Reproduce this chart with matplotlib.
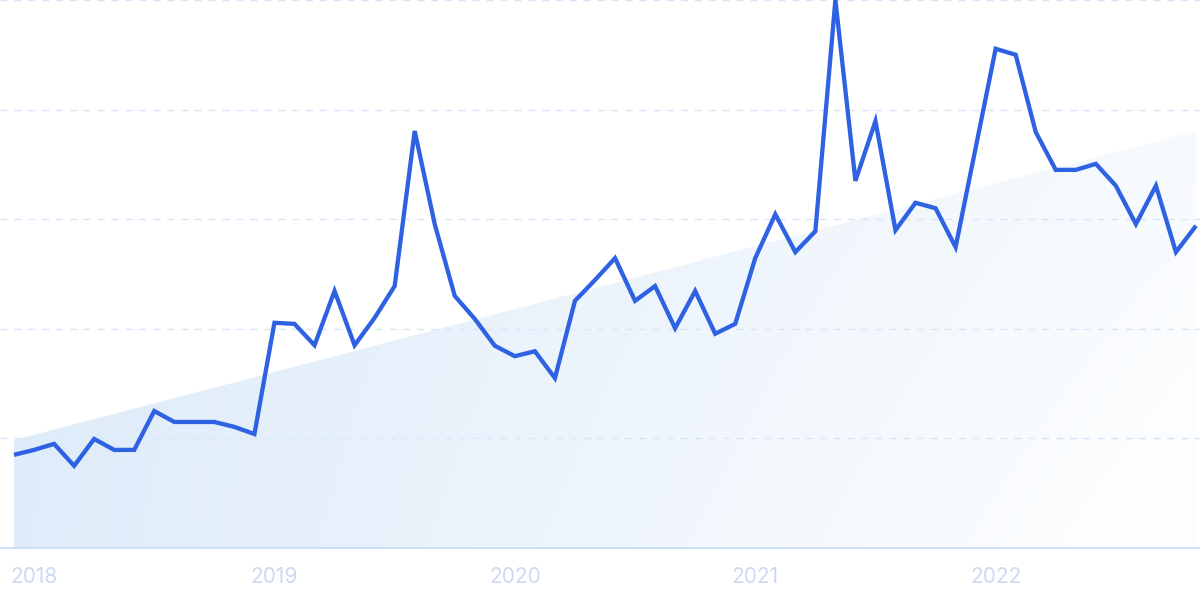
import numpy as np
import matplotlib.pyplot as plt
from matplotlib.patches import Polygon

# 月度搜索热度 (2018-01 .. 2022-12)
values = [
    17.0, 17.9, 19.0, 15.0, 19.9, 17.9, 17.9, 25.0, 23.0, 23.0, 23.0, 22.1,
    20.8, 41.1, 40.9, 37.0, 46.9, 37.0, 42.0, 47.8, 76.1, 59.1, 46.0, 41.8,
    36.9, 35.0, 35.9, 31.0, 45.1, 48.9, 52.9, 45.1, 47.8, 40.1, 46.9, 39.1,
    40.9, 52.9, 60.9, 54.0, 57.8, 100.0, 67.0, 77.9, 58.0, 63.0, 62.0, 54.9,
    73.0, 91.1, 90.0, 75.9, 69.0, 69.0, 70.1, 66.1, 59.1, 66.1, 54.0, 58.8,
]
year_labels = ["2018", "2019", "2020", "2021", "2022"]
year_tick_idx = [1, 13, 25, 37, 49]
grid_levels = [20, 40, 60, 80, 100]
trend_start, trend_end = 19.7, 76.1

x = np.arange(len(values))
y = np.array(values)

fig = plt.figure(figsize=(12, 6), dpi=100)
ax = fig.add_axes([0, 52 / 600, 1, 548 / 600])
ax.set_xlim(-0.70, len(values) - 1 + 0.2)
ax.set_ylim(0, 100)

# 趋势区域：渐变填充 (左上较深, 右下接近白色)
trend = np.linspace(trend_start, trend_end, len(values))
poly = Polygon(np.vstack([np.column_stack([x, trend]),
                          [[x[-1], 0], [x[0], 0]]]),
               closed=True, facecolor="none", edgecolor="none")
ax.add_patch(poly)

nx, ny = 300, 150
u = np.linspace(0, 1, nx)[None, :]
v = np.linspace(0, 1, ny)[:, None]  # 0 = 底部
t = np.clip(0.75 * u + 0.3 * (1 - v) * u + 0.05 * (1 - v), 0, 1)
img = np.zeros((ny, nx, 4))
img[..., 0] = 0.86
img[..., 1] = 0.92
img[..., 2] = 0.98
img[..., 3] = 0.95 - 0.87 * t
im = ax.imshow(img, extent=[x[0], x[-1], 0, 100], origin="lower",
               aspect="auto", interpolation="bilinear", zorder=1)
im.set_clip_path(poly)

# 网格线
for g in grid_levels:
    ax.axhline(g, color="#d5e5f9", lw=1.0, ls=(0, (5, 5)), zorder=0.5,
               clip_on=False)
ax.axhline(0, color="#c6dbf7", lw=1.2, zorder=2, clip_on=False)

ax.plot(x, y, color="#2f62e3", lw=3.1, solid_joinstyle="miter",
        solid_capstyle="butt", zorder=3, clip_on=False)

ax.set_xticks(year_tick_idx)
ax.set_xticklabels(year_labels, fontsize=15, color="#cdd8f3",
                   family=["Inter", "DejaVu Sans"])
ax.tick_params(axis="x", length=0, pad=14)
ax.set_yticks([])
for s in ax.spines.values():
    s.set_visible(False)

fig.savefig("out.png", dpi=100)
